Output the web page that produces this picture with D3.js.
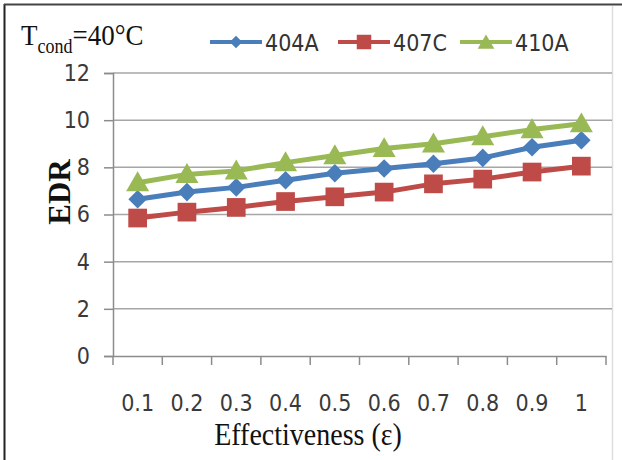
<!DOCTYPE html>
<html><head><meta charset="utf-8">
<script src="https://cdn.jsdelivr.net/npm/d3@7"></script>
<style>html,body{margin:0;padding:0;background:#fff;}svg{display:block;}</style>
</head><body>
<svg id="c" width="622" height="460"></svg>
<script>
const categories = ["0.1","0.2","0.3","0.4","0.5","0.6","0.7","0.8","0.9","1"];
const s404A = [6.65, 6.95, 7.15, 7.45, 7.75, 7.95, 8.15, 8.4, 8.85, 9.15];
const s407C = [5.85, 6.1, 6.3, 6.55, 6.75, 6.95, 7.3, 7.5, 7.8, 8.05];
const s410A = [7.35, 7.7, 7.85, 8.2, 8.5, 8.8, 9.0, 9.3, 9.6, 9.85];
const yTicks = [0, 2, 4, 6, 8, 10, 12];
const seriesNames = ["404A", "407C", "410A"];

const series = [
  {name: seriesNames[0], values: s404A, color: "#4A7EBB", symbol: d3.symbolDiamond2},
  {name: seriesNames[1], values: s407C, color: "#BE4B48", symbol: d3.symbolSquare},
  {name: seriesNames[2], values: s410A, color: "#98B954", symbol: d3.symbolTriangle}
];

const svg = d3.select("#c");
const sansFont = "'DejaVu Sans Condensed','DejaVu Sans',sans-serif";
const serifFont = "'Liberation Serif','Times New Roman',serif";

const x = d3.scaleBand().domain(categories).range([113, 606]).padding(0);
const y = d3.scaleLinear().domain([0, 12]).range([356, 73]);

// frame
svg.append("line").attr("x1", 4.5).attr("x2", 4.5).attr("y1", 4).attr("y2", 460).attr("stroke", "#222").attr("stroke-width", 2);
svg.append("line").attr("x1", 4).attr("x2", 622).attr("y1", 4.5).attr("y2", 4.5).attr("stroke", "#444").attr("stroke-width", 2);
svg.append("line").attr("x1", 612.5).attr("x2", 612.5).attr("y1", 6).attr("y2", 460).attr("stroke", "#ddd").attr("stroke-width", 1.5);

// gridlines
svg.append("g").selectAll("line").data(yTicks.filter(d => d > 0)).join("line")
  .attr("x1", 113).attr("x2", 612)
  .attr("y1", d => y(d)).attr("y2", d => y(d))
  .attr("stroke", "#a6a6a6").attr("stroke-width", 1.5);

// y axis
const yAxis = svg.append("g").attr("transform", "translate(113,0)")
  .call(d3.axisLeft(y).tickValues(yTicks).tickSize(9).tickPadding(14).tickFormat(d3.format("d")));
yAxis.select(".domain").attr("stroke", "#8c8c8c").attr("stroke-width", 1.5);
yAxis.selectAll(".tick line").attr("stroke", "#8c8c8c").attr("stroke-width", 1.5);
yAxis.selectAll("text").attr("font-family", sansFont).attr("font-size", 23).attr("fill", "#3a3a3a");

// x axis
const xAxis = svg.append("g").attr("transform", "translate(0,356)")
  .call(d3.axisBottom(x).tickSize(0).tickPadding(39));
xAxis.select(".domain").attr("stroke", "#8c8c8c").attr("stroke-width", 1.5);
xAxis.selectAll("text").attr("font-family", sansFont).attr("font-size", 23).attr("fill", "#3a3a3a");
const bounds = categories.map(c => x(c)).concat([x.range()[1]]);
svg.append("g").selectAll("line").data(bounds).join("line")
  .attr("x1", d => d).attr("x2", d => d).attr("y1", 356).attr("y2", 365)
  .attr("stroke", "#8c8c8c").attr("stroke-width", 1.5);

// series
const cx = c => x(c) + x.bandwidth() / 2;
series.forEach(s => {
  const pts = categories.map((c, i) => [cx(c), y(s.values[i])]);
  svg.append("path").datum(pts)
    .attr("d", d3.line())
    .attr("fill", "none").attr("stroke", s.color).attr("stroke-width", 5)
    .attr("stroke-linejoin", "round");
});
series.forEach(s => {
  const size = s.symbol === d3.symbolSquare ? 350 : (s.symbol === d3.symbolTriangle ? 230 : 220);
  svg.append("g").selectAll("path").data(s.values).join("path")
    .attr("transform", (v, i) => `translate(${cx(categories[i])},${y(v) + (s.symbol === d3.symbolTriangle ? 2 : 0)})`)
    .attr("d", d3.symbol().type(s.symbol).size(size))
    .attr("fill", s.color);
});

// legend
const legX = [210, 338, 460];
series.forEach((s, i) => {
  const g = svg.append("g").attr("transform", `translate(${legX[i]},42)`);
  g.append("line").attr("x1", 0).attr("x2", 52).attr("y1", 0).attr("y2", 0)
    .attr("stroke", s.color).attr("stroke-width", 4);
  const size = s.symbol === d3.symbolSquare ? 210 : (s.symbol === d3.symbolTriangle ? 120 : 100);
  g.append("path").attr("transform", `translate(26,${s.symbol === d3.symbolTriangle ? 2 : 0})`)
    .attr("d", d3.symbol().type(s.symbol).size(size)).attr("fill", s.color);
  g.append("text").attr("x", 55).attr("y", 9).attr("font-family", sansFont)
    .attr("font-size", 23).attr("fill", "#333").text(s.name);
});

// T_cond label
const t = svg.append("text").attr("transform", "translate(21,45) scale(1,1.12)")
  .attr("font-family", serifFont).attr("font-size", 27).attr("fill", "#111");
t.append("tspan").text("T");
t.append("tspan").attr("font-size", 18).attr("dy", 7).text("cond");
t.append("tspan").attr("dy", -7).text("=40°C");

// axis titles
svg.append("text").attr("transform", "translate(308,445) scale(1,1.12)")
  .attr("text-anchor", "middle").attr("font-family", serifFont).attr("font-size", 28)
  .attr("fill", "#111").text("Effectiveness (ε)");
svg.append("text").attr("transform", "translate(70,192) rotate(-90)")
  .attr("text-anchor", "middle").attr("font-family", serifFont).attr("font-size", 31)
  .attr("font-weight", "bold").attr("fill", "#111").text("EDR");
</script>
</body></html>
